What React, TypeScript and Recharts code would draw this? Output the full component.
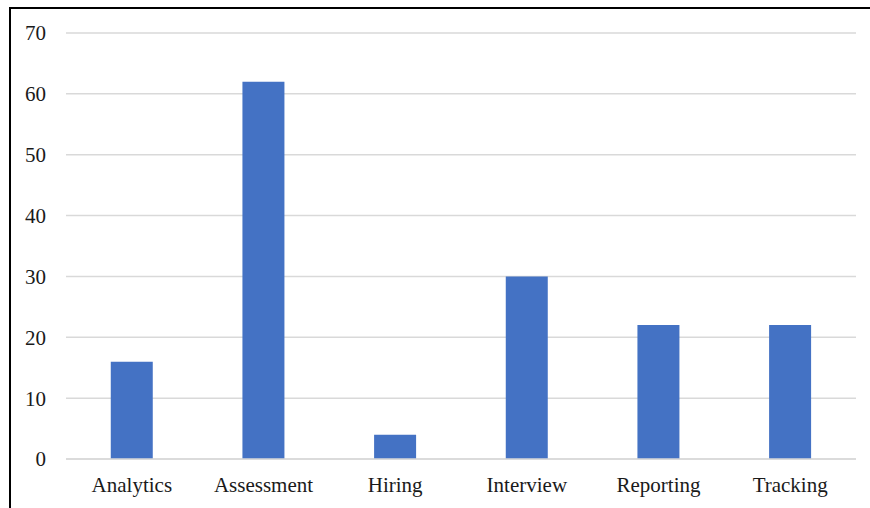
import React from "react";
import { BarChart, Bar, XAxis, YAxis, CartesianGrid } from "recharts";

const categories = ["Analytics", "Assessment", "Hiring", "Interview", "Reporting", "Tracking"];
const counts = [16, 62, 4, 30, 22, 22];
const yTicks = [0, 10, 20, 30, 40, 50, 60, 70];

const data = categories.map((name, i) => ({ name, value: counts[i] }));

export default function App() {
  return (
    <div style={{ position: "absolute", left: 0, top: 0, width: 870, height: 508, overflow: "hidden", background: "#fff" }}>
      <div
        style={{
          position: "absolute",
          left: 9,
          top: 7,
          width: 900,
          height: 560,
          borderLeft: "2.5px solid #000",
          borderTop: "2.5px solid #000",
        }}
      />
      <div style={{ position: "absolute", left: 0, top: 0 }}>
        <BarChart
          width={870}
          height={508}
          data={data}
          margin={{ top: 33, right: 14, bottom: 19, left: 0 }}
          barCategoryGap="34%"
        >
          <CartesianGrid vertical={false} stroke="#d9d9d9" strokeWidth={1.5} />
          <XAxis
            dataKey="name"
            height={30}
            tickLine={false}
            tickSize={0}
            tickMargin={18}
            axisLine={{ stroke: "#d9d9d9", strokeWidth: 1.5 }}
            tick={{ fill: "#1a1a1a", fontSize: 21, fontFamily: "Liberation Serif" }}
            interval={0}
          />
          <YAxis
            width={66}
            domain={[0, 70]}
            ticks={yTicks}
            axisLine={false}
            tickLine={false}
            tickSize={0}
            tickMargin={20}
            tick={{ fill: "#1a1a1a", fontSize: 21, fontFamily: "Liberation Serif" }}
          />
          <Bar dataKey="value" fill="#4472C4" isAnimationActive={false} />
        </BarChart>
      </div>
    </div>
  );
}
